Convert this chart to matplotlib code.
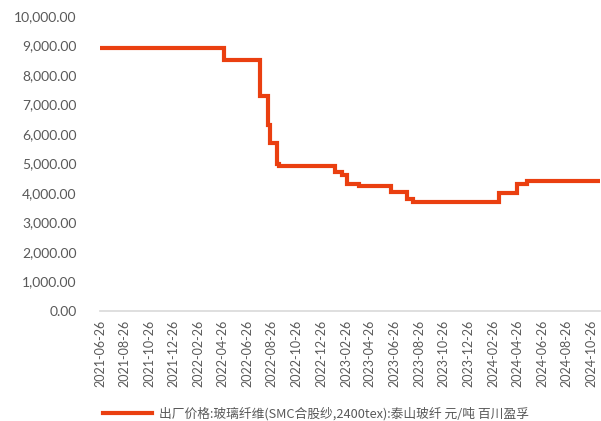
import matplotlib
matplotlib.use("Agg")
import matplotlib.pyplot as plt
import pandas as pd

dates = ["2021-06-26", "2022-04-30", "2022-07-28", "2022-08-17", "2022-08-21",
         "2022-09-07", "2022-09-13", "2023-01-31", "2023-02-15", "2023-02-28",
         "2023-03-31", "2023-06-17", "2023-07-28", "2023-08-11", "2024-03-11",
         "2024-04-24", "2024-05-20", "2024-11-17"]
values = [8900, 8500, 7300, 6300, 5700,
          5000, 4900, 4700, 4600, 4300,
          4250, 4050, 3800, 3700, 4000,
          4300, 4400, 4400]
tick_labels = ["2021-06-26", "2021-08-26", "2021-10-26", "2021-12-26", "2022-02-26",
               "2022-04-26", "2022-06-26", "2022-08-26", "2022-10-26", "2022-12-26",
               "2023-02-26", "2023-04-26", "2023-06-26", "2023-08-26", "2023-10-26",
               "2023-12-26", "2024-02-26", "2024-04-26", "2024-06-26", "2024-08-26",
               "2024-10-26"]
series_name = "出厂价格:玻璃纤维(SMC合股纱,2400tex):泰山玻纤 元/吨 百川盈孚"

plt.rcParams['font.family'] = ['Lato', 'Noto Sans CJK SC', 'DejaVu Sans']

x = pd.to_datetime(dates)
ticks = pd.to_datetime(tick_labels)

fig = plt.figure(figsize=(6.01, 4.21), dpi=100)
ax = fig.add_axes([100/601, 1-311/421, 500/601, 295/421])

line, = ax.plot(x, values, drawstyle='steps-post', color='#EA3F10', linewidth=3,
                solid_joinstyle='miter')

ax.set_ylim(0, 10000)
ax.set_yticks(range(0, 10001, 1000))
ax.set_yticklabels([f"{v:,.2f}" for v in range(0, 10001, 1000)])
ax.set_xlim(x[0], x[-1])
ax.set_xticks(ticks)
ax.set_xticklabels(tick_labels, rotation=90)

for s in ['top', 'right', 'left']:
    ax.spines[s].set_visible(False)
ax.spines['bottom'].set_color('#D9D9D9')
ax.spines['bottom'].set_linewidth(1.2)
ax.tick_params(axis='both', length=0, colors='#595959', labelsize=10)
ax.tick_params(axis='x', labelsize=9, pad=6)
ax.tick_params(axis='y', pad=17)

fig.legend([line], [series_name], loc='center left', bbox_to_anchor=(91/601, 1-414/421),
           frameon=False, handlelength=3.9, handletextpad=0.5, labelcolor='#595959',
           prop={'family': ['Noto Sans CJK SC', 'DejaVu Sans'], 'size': 9.2})

fig.savefig("out.png", dpi=100)
